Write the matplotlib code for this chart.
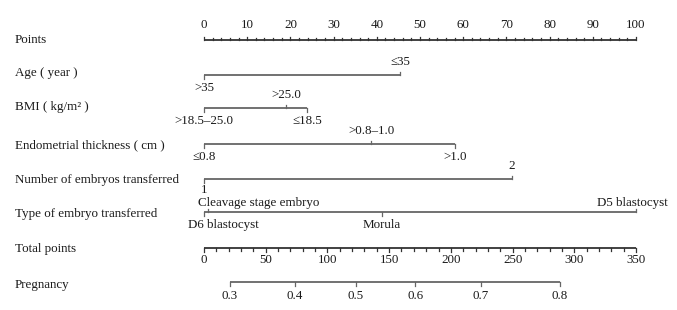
import matplotlib
matplotlib.use("Agg")
import matplotlib.pyplot as plt

# ---- data ----
row_names = ["Points", "Age ( year )", "BMI ( kg/m² )", "Endometrial thickness ( cm )",
             "Number of embryos transferred", "Type of embryo transferred",
             "Total points", "Pregnancy"]

age_labels = [">35", "≤35"]
age_points = [0, 45.4]
age_side = ["below", "above"]

bmi_labels = [">18.5–25.0", ">25.0", "≤18.5"]
bmi_points = [0, 19.0, 23.9]
bmi_side = ["below", "above", "below"]

endo_labels = ["≤0.8", ">0.8–1.0", ">1.0"]
endo_points = [0, 38.7, 58.1]
endo_side = ["below", "above", "below"]

num_labels = ["1", "2"]
num_points = [0, 71.2]
num_side = ["below", "above"]

type_labels = ["D6 blastocyst", "Cleavage stage embryo", "Morula", "D5 blastocyst"]
type_points = [0, 1.0, 41.2, 100]
type_side = ["below", "above", "below", "above"]

points_ticks = list(range(0, 101, 10))
total_ticks = list(range(0, 351, 50))
total_max = 350
preg_labels = ["0.3", "0.4", "0.5", "0.6", "0.7", "0.8"]
preg_total_points = [21.1, 73.7, 122.9, 171.0, 224.5, 288.5]

# ---- layout (pixel based) ----
W, H = 677, 310
x0, x1 = 204, 636
ppx = (x1 - x0) / 100.0
fig = plt.figure(figsize=(W / 100, H / 100), dpi=100)
ax = fig.add_axes([0, 0, 1, 1])
ax.set_xlim(-x0 / ppx, (W - x0) / ppx)
ax.set_ylim(H, 0)
ax.axis("off")

FONT = "Liberation Serif"
FS = 9.4
TC = "#1a1a1a"
LC_AX = "#333333"
LC_ROW = "#666666"
left_x = (15 - x0) / ppx
dx1 = 1 / ppx  # one pixel in data units

row_y = {"Points": 40, "Age": 75, "BMI": 108, "Endo": 144, "Num": 179,
         "Type": 212, "Total": 248, "Preg": 282}
name_y = [40, 73, 107, 145, 180, 214, 249, 285]
for nm, yy in zip(row_names, name_y):
    ax.text(left_x, yy, nm, fontsize=FS, family=FONT, color=TC, ha="left", va="center")

# Points axis
y = row_y["Points"]
ax.plot([0, 100], [y, y], color=LC_AX, lw=1.3, solid_capstyle="butt")
for v in range(0, 101, 2):
    ax.plot([v, v], [y, y - (3.5 if v % 10 == 0 else 2.5)], color=LC_AX, lw=0.9)
for v in points_ticks:
    ax.text(v, y - 15, str(v), fontsize=FS, family=FONT, color=TC, ha="center", va="center")

# categorical rows
def cat_row(yy, labels, pts, sides, up_off=13, down_off=13, color=LC_ROW, offsets=None):
    ax.plot([min(pts), max(pts)], [yy, yy], color=color, lw=1.3, solid_capstyle="butt")
    for i, (lab, p, s) in enumerate(zip(labels, pts, sides)):
        sgn = -1 if s == "above" else 1
        ax.plot([p, p], [yy, yy + sgn * 3.5], color=color, lw=0.9)
        off = offsets[i] if offsets else 0
        ty = yy - up_off if s == "above" else yy + down_off
        ax.text(p + off * dx1, ty, lab, fontsize=FS, family=FONT, color=TC,
                ha="center", va="center")

cat_row(row_y["Age"], age_labels, age_points, age_side)
cat_row(row_y["BMI"], bmi_labels, bmi_points, bmi_side)
cat_row(row_y["Endo"], endo_labels, endo_points, endo_side)
cat_row(row_y["Num"], num_labels, num_points, num_side, down_off=11)
cat_row(row_y["Type"], type_labels, type_points, type_side, up_off=9, down_off=13,
        offsets=[19, 50, 0, -4])

# Total points axis
y = row_y["Total"]
sc = 100.0 / total_max
ax.plot([0, 100], [y, y], color=LC_AX, lw=1.3, solid_capstyle="butt")
for v in range(0, total_max + 1, 10):
    ax.plot([v * sc, v * sc], [y, y + (3.5 if v % 50 == 0 else 2.5)], color=LC_AX, lw=0.9)
for v in total_ticks:
    ax.text(v * sc, y + 12, str(v), fontsize=FS, family=FONT, color=TC, ha="center", va="center")

# Pregnancy axis
y = row_y["Preg"]
pp = [p * sc for p in preg_total_points]
ax.plot([pp[0], pp[-1]], [y, y], color=LC_ROW, lw=1.3, solid_capstyle="butt")
for lab, p in zip(preg_labels, pp):
    ax.plot([p, p], [y, y + 3.5], color=LC_ROW, lw=0.9)
    ax.text(p, y + 14, lab, fontsize=FS, family=FONT, color=TC, ha="center", va="center")

fig.savefig("out.png", dpi=100, facecolor="white")
